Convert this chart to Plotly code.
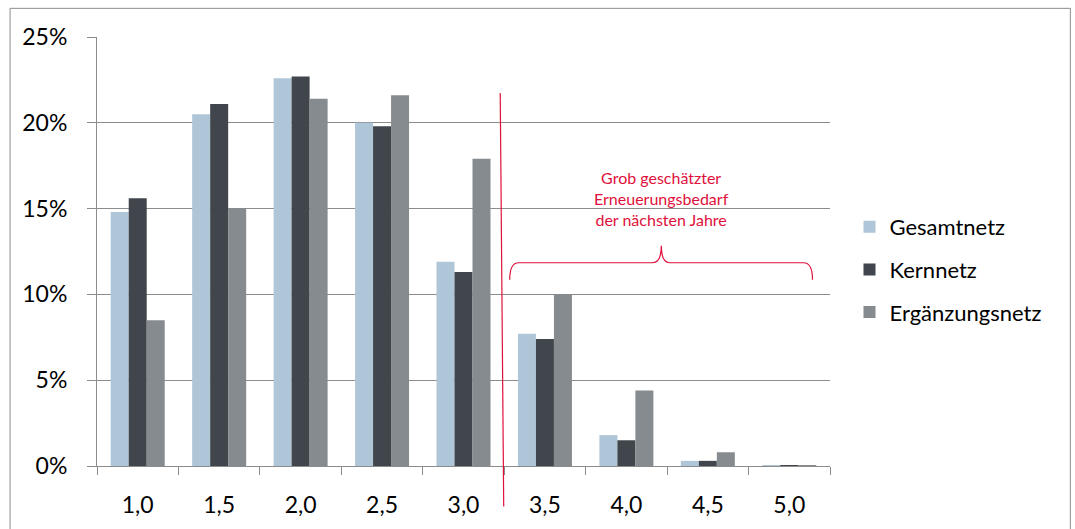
import plotly.graph_objects as go

# Verteilung nach Zustandsnote (Anteil in %)
zustandsnoten = ["1,0", "1,5", "2,0", "2,5", "3,0", "3,5", "4,0", "4,5", "5,0"]
gesamtnetz = [14.8, 20.5, 22.6, 20.0, 11.9, 7.7, 1.8, 0.3, 0.02]
kernnetz = [15.6, 21.1, 22.7, 19.8, 11.3, 7.4, 1.5, 0.3, 0.01]
ergaenzungsnetz = [8.5, 15.0, 21.4, 21.6, 17.9, 10.0, 4.4, 0.8, 0.03]
y_ticks = [0, 5, 10, 15, 20, 25]
y_ticktext = ["0%", "5%", "10%", "15%", "20%", "25%"]

W, H = 1075, 529
L, R, T, B = 97, 244.5, 37, 62.5
FONT = "Lato, 'Open Sans', sans-serif"
RED = "#E0103C"
GRID = "#8C8C8C"

series = [
    ("Gesamtnetz", gesamtnetz, "#AFC6D9"),
    ("Kernnetz", kernnetz, "#40464B"),
    ("Ergänzungsnetz", ergaenzungsnetz, "#868B8F"),
]

fig = go.Figure()
for i, (name, vals, col) in enumerate(series):
    fig.add_trace(go.Bar(
        x=zustandsnoten, y=vals, name=name, legendgroup=name,
        marker=dict(color=col, line=dict(width=0)),
        hoverinfo="skip",
    ))


def px(x):
    return (x - L) / (W - L - R)


def py(y):
    return (H - B - y) / (H - T - B)


# Geschweifte Klammer über den Noten 3,5 bis 5,0
pts = [
    ("M", 510, 280), ("Q", 510, 263, 519, 263), ("L", 653, 263),
    ("Q", 661.7, 263, 661.7, 246), ("Q", 661.7, 263, 670, 263),
    ("L", 804, 263), ("Q", 813, 263, 813, 280),
]
path = ""
for p in pts:
    cmd, coords = p[0], p[1:]
    conv = []
    for k in range(0, len(coords), 2):
        conv.append(f"{px(coords[k]):.5f},{py(coords[k + 1]):.5f}")
    path += cmd + " " + " ".join(conv) + " "

shapes = [
    # Rahmen
    dict(type="rect", xref="paper", yref="paper",
         x0=px(10), x1=px(1071), y0=py(540), y1=py(8.3),
         line=dict(color="#8C8C8C", width=1), layer="below"),
    # Trennlinie
    dict(type="line", xref="paper", yref="paper",
         x0=px(500.5), x1=px(504), y0=py(93), y1=py(507),
         line=dict(color=RED, width=1.2)),
    dict(type="path", xref="paper", yref="paper", path=path.strip(),
         line=dict(color=RED, width=1.2)),
]

fig.update_layout(
    width=W, height=H,
    margin=dict(l=L, r=R, t=T, b=B, pad=0),
    paper_bgcolor="white", plot_bgcolor="white",
    barmode="group", bargap=0.337, bargroupgap=0,
    font=dict(family=FONT, color="#000000"),
    shapes=shapes,
    showlegend=True,
    legend=dict(
        xref="container", yref="container",
        x=849.5 / W, y=1 - 206 / H, xanchor="left", yanchor="top",
        traceorder="grouped", tracegroupgap=11,
        font=dict(family=FONT, size=22, color="#000000"),
        bgcolor="rgba(0,0,0,0)",
    ),
    annotations=[dict(
        xref="paper", yref="paper", x=px(661.7), y=py(198.5),
        text="Grob geschätzter<br>Erneuerungsbedarf<br>der nächsten Jahre",
        showarrow=False, xanchor="center", yanchor="middle",
        font=dict(family=FONT, size=16, color=RED),
    )],
)

fig.update_xaxes(
    type="category", tickson="boundaries",
    ticks="outside", ticklen=8, tickcolor=GRID, tickwidth=1,
    showline=True, linecolor=GRID, linewidth=1,
    showgrid=False, zeroline=False,
    tickfont=dict(family=FONT, size=23, color="#000000"),
    ticklabelstandoff=18,
)
fig.update_yaxes(
    range=[0, 25], tickvals=y_ticks, ticktext=y_ticktext,
    ticks="outside", ticklen=9, tickcolor=GRID, tickwidth=1,
    showline=True, linecolor=GRID, linewidth=1,
    showgrid=True, gridcolor=GRID, gridwidth=1, zeroline=False,
    tickfont=dict(family=FONT, size=23, color="#000000"),
    ticklabelstandoff=15,
)

fig.write_html("out.html")
